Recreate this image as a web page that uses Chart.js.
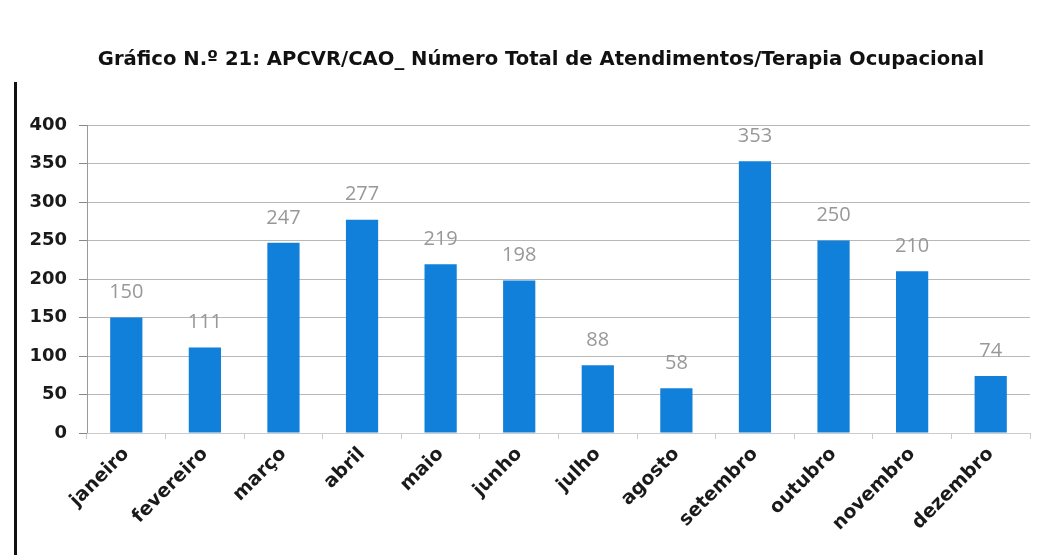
<!DOCTYPE html>
<html><head><meta charset="utf-8">
<script src="https://cdn.jsdelivr.net/npm/chart.js@4/dist/chart.umd.min.js"></script>
<style>html,body{margin:0;padding:0;background:#fff;}canvas{display:block;}</style>
</head><body>
<canvas id="c" width="1052" height="555"></canvas>
<script>
const titleText = 'Gráfico N.º 21: APCVR/CAO_ Número Total de Atendimentos/Terapia Ocupacional';
const categories = ['janeiro','fevereiro','março','abril','maio','junho','julho','agosto','setembro','outubro','novembro','dezembro'];
const values = [150,111,247,277,219,198,88,58,353,250,210,74];
const yTicks = [0,50,100,150,200,250,300,350,400];

const valueLabels = {
  id: 'valueLabels',
  afterDatasetsDraw(chart) {
    const ctx = chart.ctx;
    const meta = chart.getDatasetMeta(0);
    ctx.save();
    ctx.font = '20px "Open Sans", sans-serif';
    ctx.fillStyle = '#989898';
    ctx.textAlign = 'center';
    ctx.textBaseline = 'bottom';
    meta.data.forEach((bar, i) => {
      ctx.fillText(String(values[i]), bar.x, bar.y - 15);
    });
    ctx.restore();
  }
};
const frame = {
  id: 'frame',
  beforeDraw(chart) {
    const ctx = chart.ctx;
    ctx.save();
    ctx.fillStyle = '#fff';
    ctx.fillRect(0,0,chart.width,chart.height);
    ctx.fillStyle = '#111';
    ctx.fillRect(14, 82, 3, 473);
    ctx.restore();
  },
  afterDraw(chart) {
    const ctx = chart.ctx;
    ctx.save();
    ctx.font = 'bold 19.6px "DejaVu Sans"';
    ctx.fillStyle = '#111';
    ctx.textAlign = 'center';
    ctx.textBaseline = 'middle';
    ctx.fillText(titleText, 541, 60);
    ctx.restore();
  }
};

new Chart(document.getElementById('c'), {
  type: 'bar',
  data: {
    labels: categories,
    datasets: [{
      data: values,
      backgroundColor: '#1080da',
      borderWidth: 0,
      categoryPercentage: 0.82,
      barPercentage: 0.5
    }]
  },
  options: {
    responsive: false,
    animation: false,
    layout: { padding: { left: 20, right: 22, top: 125, bottom: 0 } },
    plugins: {
      legend: { display: false },
      tooltip: { enabled: false },
      title: { display: false }
    },
    scales: {
      y: {
        min: 0, max: 400,
        afterBuildTicks(scale) { scale.ticks = yTicks.map(v => ({ value: v })); },
        ticks: {
          color: '#1a1a1a',
          font: { family: '"DejaVu Sans"', size: 18, weight: 'bold' },
          padding: 12
        },
        grid: { color: '#b8b8b8', tickLength: 8, tickColor: '#888' },
        border: { color: '#999', width: 1 },
        afterFit(scale) { scale.width = 67; }
      },
      x: {
        offset: true,
        ticks: {
          color: '#1a1a1a',
          font: { family: '"DejaVu Sans"', size: 19, weight: 'bold' },
          minRotation: 45, maxRotation: 45,
          autoSkip: false,
          padding: 4
        },
        grid: { drawOnChartArea: false, tickLength: 6, color: '#ccc', offset: true },
        border: { color: '#ccc' },
        afterFit(scale) { scale.height = 122; }
      }
    }
  },
  plugins: [frame, valueLabels]
});
</script>
</body></html>
